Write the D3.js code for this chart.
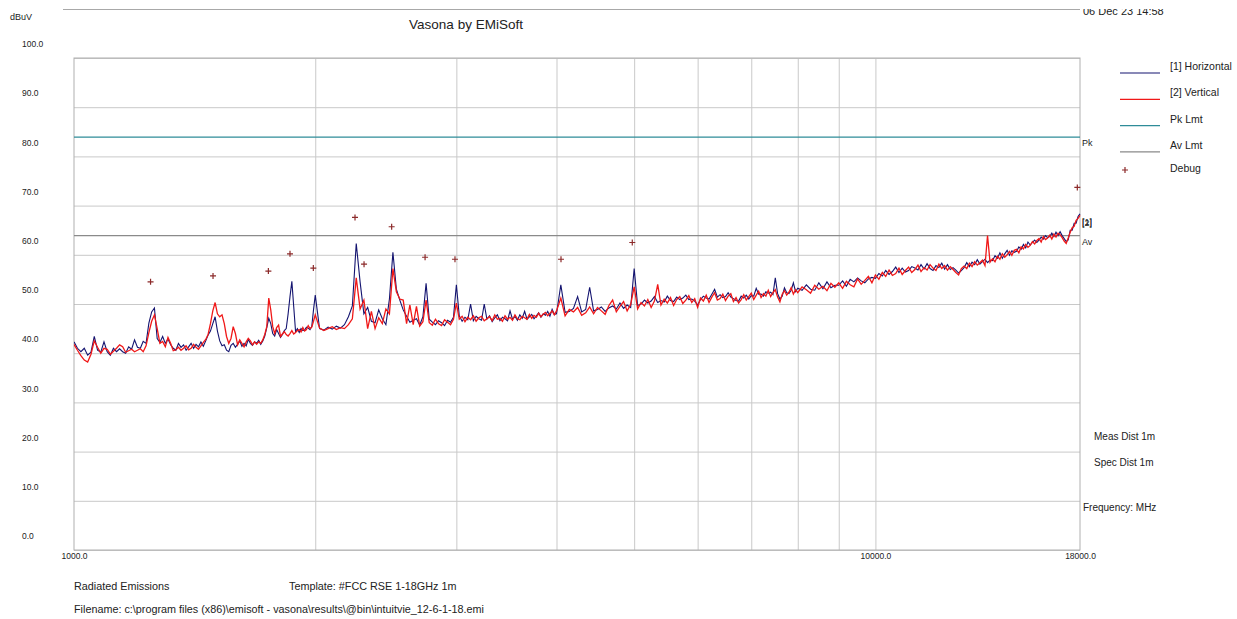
<!DOCTYPE html>
<html>
<head>
<meta charset="utf-8">
<script src="https://cdn.jsdelivr.net/npm/d3@7"></script>
<style>
  body { margin: 0; background: #fff; }
  svg text { font-family: "Liberation Sans", Arial, sans-serif; fill: #222; }
</style>
</head>
<body>
<svg id="chart" width="1237" height="619"></svg>
<script>
// Sweep frequencies (MHz)
const freqMHz = [
  1000,1010,1020,1030,1040,1050,1060,1070,1080,1090,
  1100,1110,1120,1130,1140,1150,1160,1170,1180,1190,
  1200,1210,1220,1230,1240,1250,1260,1270,1280,1290,
  1300,1310,1320,1330,1340,1350,1360,1370,1380,1390,
  1400,1410,1420,1430,1440,1450,1460,1470,1480,1490,
  1500,1510,1520,1530,1540,1550,1560,1570,1580,1590,
  1600,1610,1620,1630,1640,1650,1660,1670,1680,1690,
  1700,1710,1720,1730,1740,1750,1760,1770,1780,1790,
  1800,1810,1820,1830,1840,1850,1860,1870,1880,1890,
  1900,1910,1920,1930,1940,1950,1960,1970,1980,1990,
  2000,2025,2050,2075,2100,2125,2150,2175,2200,2225,
  2250,2275,2300,2325,2350,2375,2400,2425,2450,2475,
  2500,2525,2550,2575,2600,2625,2650,2675,2700,2725,
  2750,2775,2800,2825,2850,2875,2900,2925,2950,2975,
  3000,3025,3050,3075,3100,3125,3150,3175,3200,3225,
  3250,3275,3300,3325,3350,3375,3400,3425,3450,3475,
  3500,3525,3550,3575,3600,3625,3650,3675,3700,3725,
  3750,3775,3800,3825,3850,3875,3900,3925,3950,3975,
  4000,4050,4100,4150,4200,4250,4300,4350,4400,4450,
  4500,4550,4600,4650,4700,4750,4800,4850,4900,4950,
  5000,5050,5100,5150,5200,5250,5300,5350,5400,5450,
  5500,5550,5600,5650,5700,5750,5800,5850,5900,5950,
  6000,6050,6100,6150,6200,6250,6300,6350,6400,6450,
  6500,6550,6600,6650,6700,6750,6800,6850,6900,6950,
  7000,7050,7100,7150,7200,7250,7300,7350,7400,7450,
  7500,7550,7600,7650,7700,7750,7800,7850,7900,7950,
  8000,8100,8200,8300,8400,8500,8600,8700,8800,8900,
  9000,9100,9200,9300,9400,9500,9600,9700,9800,9900,
  10000,10100,10200,10300,10400,10500,10600,10700,10800,10900,
  11000,11100,11200,11300,11400,11500,11600,11700,11800,11900,
  12000,12100,12200,12300,12400,12500,12600,12700,12800,12900,
  13000,13100,13200,13300,13400,13500,13600,13700,13800,13900,
  14000,14100,14200,14300,14400,14500,14600,14700,14800,14900,
  15000,15100,15200,15300,15400,15500,15600,15700,15800,15900,
  16000,16100,16200,16300,16400,16500,16600,16700,16800,16900,
  17000,17100,17200,17300,17400,17500,17600,17700,17800,17900,
  18000
];

// [1] Horizontal trace (dBuV)
const horizontalDbuv = [
  42.3,41.0,40.3,41.0,39.6,40.2,43.4,40.6,40.2,42.3,
  40.3,39.6,41.0,40.3,40.9,40.3,40.0,41.3,40.8,42.7,
  41.2,41.0,42.4,42.0,46.1,48.4,49.2,43.0,42.2,43.4,
  42.0,42.9,41.7,41.0,40.6,42.0,41.2,41.7,40.6,41.3,
  42.0,41.0,41.8,41.3,42.3,41.4,42.5,43.7,44.5,46.0,
  47.4,44.5,42.5,41.5,41.7,40.6,40.3,41.6,42.0,41.2,
  41.8,42.5,41.4,42.0,41.5,42.8,42.0,41.6,42.3,42.0,
  42.6,41.8,42.5,43.5,45.2,47.1,46.0,44.0,43.5,44.8,
  44.0,43.2,43.8,44.6,45.0,48.0,51.5,54.6,49.5,44.4,
  45.0,44.2,45.0,44.6,44.7,45.3,45.1,44.8,45.4,48.8,
  51.8,45.0,44.7,45.3,44.9,45.5,45.1,45.8,47.4,49.6,
  62.3,54.5,48.0,49.3,46.5,46.2,48.8,47.0,45.8,51.0,
  60.5,53.0,50.8,48.8,47.5,46.3,46.7,47.0,45.7,47.4,
  54.2,46.9,46.3,45.8,46.6,46.2,45.6,46.7,46.3,47.3,
  53.9,47.6,46.5,47.3,46.8,50.0,46.6,47.5,47.0,46.7,
  50.0,46.9,47.6,46.4,47.2,47.8,46.6,47.3,47.0,46.6,
  48.6,46.9,47.5,46.7,47.8,47.1,48.5,46.9,47.4,47.9,
  47.0,47.6,48.2,47.3,48.0,47.7,48.5,47.5,48.9,47.9,
  48.0,53.9,48.3,48.5,49.1,51.5,48.4,48.9,53.4,48.6,
  48.9,49.4,48.5,49.2,49.6,49.0,50.2,49.1,49.8,49.3,
  57.2,49.7,50.0,50.8,50.2,50.6,51.5,50.3,50.7,50.4,
  51.6,50.7,50.5,51.4,50.9,51.2,51.8,50.9,51.0,50.6,
  49.8,50.9,51.6,51.2,51.0,52.0,53.0,51.4,51.9,51.3,
  51.5,52.3,51.4,51.1,50.7,50.6,51.6,51.2,51.8,51.0,
  51.7,51.6,53.2,52.0,52.0,51.6,52.5,52.2,52.4,51.9,
  55.3,52.1,51.0,51.6,53.3,52.3,52.1,52.8,54.3,52.5,
  53.2,52.8,53.9,53.0,52.8,54.3,53.1,54.5,53.3,53.8,
  53.8,54.7,53.6,55.0,54.5,55.3,54.7,54.3,55.1,55.4,
  55.2,56.2,55.7,56.8,56.0,56.6,57.5,56.4,57.3,56.5,
  56.8,57.6,57.3,56.9,58.0,57.1,58.2,57.2,56.8,57.8,
  57.4,58.3,57.1,58.0,57.0,57.4,56.9,56.3,56.8,57.4,
  58.4,57.6,58.5,58.0,59.0,58.1,58.6,59.1,58.4,58.9,
  58.8,59.8,59.3,60.4,59.3,60.2,60.9,59.9,60.8,60.5,
  60.7,61.6,61.1,62.1,61.4,62.6,62.0,62.5,63.0,62.5,
  63.0,63.6,63.2,63.9,63.5,63.7,64.4,63.7,64.6,63.9,
  64.7,63.9,63.3,62.7,63.0,65.0,65.0,66.4,66.4,67.8,
  68.3
];

// [2] Vertical trace (dBuV)
const verticalDbuv = [
  41.8,40.6,39.5,38.6,38.2,39.8,42.5,41.2,40.0,41.0,
  40.8,39.8,40.4,41.0,41.7,41.3,40.2,40.5,40.8,40.3,
  40.6,40.9,40.3,41.5,44.2,46.5,47.8,45.0,42.0,42.4,
  41.3,43.2,42.0,40.5,40.7,41.2,40.6,41.0,41.5,40.7,
  41.0,41.8,41.2,40.8,41.5,42.2,42.8,43.8,46.0,48.6,
  50.3,48.0,47.4,47.8,46.0,43.4,42.0,43.0,45.4,44.0,
  41.7,42.7,42.0,41.3,42.3,43.0,42.5,41.7,42.3,41.8,
  42.3,42.0,42.7,43.8,45.4,51.2,48.8,45.4,44.0,45.2,
  45.7,43.4,43.9,44.4,43.8,43.5,44.0,44.6,43.9,44.2,
  44.6,44.8,44.3,45.2,44.5,44.8,45.6,45.0,45.3,46.5,
  47.8,45.1,44.6,45.0,45.4,44.8,45.2,45.0,45.8,47.0,
  55.3,49.0,50.8,45.0,48.5,45.0,47.2,46.0,49.0,48.0,
  57.2,52.5,51.0,50.8,46.0,49.8,45.8,49.5,45.5,46.4,
  50.8,46.2,45.7,46.9,46.0,45.6,46.8,46.3,45.8,46.9,
  50.2,46.9,47.5,46.4,47.3,46.8,47.6,46.5,47.2,47.5,
  46.6,47.0,47.4,46.6,47.8,46.9,47.1,46.5,47.6,46.9,
  47.3,46.7,47.8,47.0,46.8,47.5,47.2,46.9,47.9,47.1,
  47.7,47.3,48.1,47.4,47.9,48.3,47.6,48.1,48.6,47.8,
  48.6,51.2,47.6,48.9,48.4,49.3,47.7,48.2,49.4,48.0,
  49.3,48.6,47.9,49.7,50.8,48.4,49.5,50.5,48.6,49.9,
  53.5,49.0,50.3,49.6,50.9,49.3,50.6,54.0,49.8,51.0,
  50.2,51.3,49.7,50.9,51.5,50.1,50.8,51.7,50.3,51.1,
  49.3,51.2,50.6,51.8,50.3,51.4,52.3,50.8,51.1,52.0,
  50.7,51.6,52.1,50.5,51.3,50.2,50.9,51.9,50.8,51.5,
  52.2,50.9,51.8,52.6,51.3,52.1,51.6,52.8,51.5,52.3,
  52.9,51.4,50.4,52.0,52.7,51.8,52.4,53.3,52.0,52.9,
  52.3,53.5,52.9,52.2,53.8,53.0,53.6,52.7,54.2,53.4,
  54.3,53.2,54.6,53.9,53.5,55.1,54.0,54.8,55.6,54.3,
  55.9,55.0,56.4,55.6,56.9,55.8,56.2,57.3,56.0,56.8,
  57.5,56.4,57.0,57.9,56.6,57.4,56.9,58.0,57.3,56.8,
  58.1,57.2,57.8,56.9,57.6,57.0,56.4,55.9,57.2,57.7,
  57.2,58.3,57.6,58.6,57.9,58.4,58.9,57.8,63.9,58.5,
  59.2,58.6,59.7,59.1,60.2,59.5,60.0,60.7,59.9,60.9,
  61.1,60.4,61.6,61.2,62.1,61.5,61.9,62.7,62.2,62.9,
  63.3,62.6,63.7,63.1,63.4,64.0,63.2,64.2,63.6,64.4,
  64.1,63.5,62.8,62.3,63.4,64.6,65.5,65.8,67.0,67.4,
  68.0
];

// Debug markers
const debugFreqMHz = [1246, 1491, 1748, 1860, 1989, 2242, 2301, 2491, 2742, 2988, 4052, 4973, 17862];
const debugDbuv    = [54.5, 55.7, 56.7, 60.2, 57.3, 67.6, 58.1, 65.7, 59.5, 59.1, 59.1, 62.5, 73.7];

// Limit lines (dBuV)
const pkLimitDbuv = 83.9;
const avLimitDbuv = 63.9;

// Axis ticks
const yTicks = [0, 10, 20, 30, 40, 50, 60, 70, 80, 90, 100];
const xGridFreqs = [2000, 3000, 4000, 5000, 6000, 7000, 8000, 9000, 10000];
const xLabelFreqs = [1000, 10000, 18000];

const legendItems = [
  { label: "[1] Horizontal", color: "#141470" },
  { label: "[2] Vertical", color: "#f01818" },
  { label: "Pk Lmt", color: "#2e8c98" },
  { label: "Av Lmt", color: "#8a8a8a" }
];

const svg = d3.select("#chart");
const plotLeft = 74, plotRight = 1080, plotTop = 58, plotBottom = 550;

const x = d3.scaleLog().domain([1000, 18000]).range([plotLeft, plotRight]);
const y = d3.scaleLinear().domain([0, 100]).range([plotBottom, plotTop]);

// Header rule and title
svg.append("line").attr("x1", 63).attr("x2", plotRight).attr("y1", 9.5).attr("y2", 9.5)
  .attr("stroke", "#a8a8a8").attr("stroke-width", 1);
svg.append("text").attr("x", 466).attr("y", 29).attr("text-anchor", "middle")
  .style("font-size", "13.5px").text("Vasona by EMiSoft");

// Date stamp, clipped at the top edge of the header band
svg.append("clipPath").attr("id", "dateClip")
  .append("rect").attr("x", 1080).attr("y", 9).attr("width", 157).attr("height", 30);
svg.append("text").attr("x", 1083).attr("y", 15).attr("clip-path", "url(#dateClip)")
  .style("font-size", "11px").text("06 Dec 23 14:58");

svg.append("text").attr("x", 10).attr("y", 20).style("font-size", "9px").text("dBuV");

// Horizontal grid
svg.append("g").attr("transform", `translate(${plotLeft},0)`)
  .call(d3.axisLeft(y).tickValues(yTicks).tickSize(-(plotRight - plotLeft)).tickFormat(""))
  .call(g => g.select(".domain").remove())
  .call(g => g.selectAll(".tick line").attr("stroke", "#c9c9c9"));

// Vertical grid
svg.append("g").attr("transform", `translate(0,${plotBottom})`)
  .call(d3.axisBottom(x).tickValues(xGridFreqs).tickSize(-(plotBottom - plotTop)).tickFormat(""))
  .call(g => g.select(".domain").remove())
  .call(g => g.selectAll(".tick line").attr("stroke", "#c9c9c9"));

// Y labels (drawn above their grid lines)
svg.append("g").attr("transform", `translate(${plotLeft},0)`)
  .call(d3.axisLeft(y).tickValues(yTicks).tickSize(0).tickFormat(d => d.toFixed(1)))
  .call(g => g.select(".domain").remove())
  .call(g => g.selectAll(".tick text")
    .attr("x", 22 - plotLeft).attr("y", -14).attr("text-anchor", "start")
    .style("font-size", "8.5px").style("font-family", "Liberation Sans, Arial, sans-serif").attr("fill", "#222"));

// X labels
svg.append("g").attr("transform", `translate(0,${plotBottom})`)
  .call(d3.axisBottom(x).tickValues(xLabelFreqs).tickSize(0).tickFormat(d => d.toFixed(1)))
  .call(g => g.select(".domain").remove())
  .call(g => g.selectAll(".tick text")
    .attr("y", 3).style("font-size", "8.5px").style("font-family", "Liberation Sans, Arial, sans-serif").attr("fill", "#222"));

// Plot frame
svg.append("rect").attr("x", plotLeft).attr("y", plotTop)
  .attr("width", plotRight - plotLeft).attr("height", plotBottom - plotTop)
  .attr("fill", "none").attr("stroke", "#b0b0b0");

// Limit lines
svg.append("line").attr("x1", plotLeft).attr("x2", plotRight)
  .attr("y1", y(pkLimitDbuv)).attr("y2", y(pkLimitDbuv))
  .attr("stroke", legendItems[2].color).attr("stroke-width", 1.2);
svg.append("line").attr("x1", plotLeft).attr("x2", plotRight)
  .attr("y1", y(avLimitDbuv)).attr("y2", y(avLimitDbuv))
  .attr("stroke", legendItems[3].color).attr("stroke-width", 1.2);

// Traces
svg.append("clipPath").attr("id", "plotClip")
  .append("rect").attr("x", plotLeft).attr("y", plotTop)
  .attr("width", plotRight - plotLeft + 1).attr("height", plotBottom - plotTop);

const line = d3.line().x(d => x(d[0])).y(d => y(d[1]));
const hData = freqMHz.map((f, i) => [f, horizontalDbuv[i]]);
const vData = freqMHz.map((f, i) => [f, verticalDbuv[i]]);

svg.append("path").datum(hData).attr("d", line).attr("clip-path", "url(#plotClip)")
  .attr("fill", "none").attr("stroke", legendItems[0].color).attr("stroke-width", 1.1);
svg.append("path").datum(vData).attr("d", line).attr("clip-path", "url(#plotClip)")
  .attr("fill", "none").attr("stroke", legendItems[1].color).attr("stroke-width", 1.3);

// Debug markers
const plus = (cx, cy, s) => `M${cx - s},${cy}H${cx + s}M${cx},${cy - s}V${cy + s}`;
svg.append("g").selectAll("path").data(debugFreqMHz).join("path")
  .attr("d", (f, i) => plus(x(f), y(debugDbuv[i]), 3))
  .attr("stroke", "#8c2a2a").attr("stroke-width", 1.2).attr("fill", "none");

// Right-hand annotations
const side = svg.append("g").style("font-size", "9px");
side.append("text").attr("x", 1082).attr("y", y(pkLimitDbuv) + 9).text("Pk");
side.append("text").attr("x", 1082).attr("y", y(avLimitDbuv) + 9).text("Av");
side.append("text").attr("x", 1082).attr("y", y(horizontalDbuv[horizontalDbuv.length - 1]) + 11).text("[1]");
side.append("text").attr("x", 1082).attr("y", y(verticalDbuv[verticalDbuv.length - 1]) + 11).text("[2]");

const notes = svg.append("g").style("font-size", "10px");
notes.append("text").attr("x", 1094).attr("y", 440).text("Meas Dist 1m");
notes.append("text").attr("x", 1094).attr("y", 466).text("Spec Dist 1m");
notes.append("text").attr("x", 1083).attr("y", 511).text("Frequency: MHz");

// Legend
const legend = svg.append("g").style("font-size", "10.5px");
legendItems.forEach((d, i) => {
  const ly = 73 + i * 26.3;
  legend.append("line").attr("x1", 1120).attr("x2", 1160).attr("y1", ly).attr("y2", ly)
    .attr("stroke", d.color).attr("stroke-width", 1.2);
  legend.append("text").attr("x", 1170).attr("y", ly - 3).text(d.label);
});
legend.append("path").attr("d", plus(1125, 170, 3)).attr("stroke", "#8c2a2a").attr("stroke-width", 1.2);
legend.append("text").attr("x", 1170).attr("y", 172).text("Debug");

// Footer
const foot = svg.append("g").style("font-size", "10.8px");
foot.append("text").attr("x", 74).attr("y", 590).text("Radiated Emissions");
foot.append("text").attr("x", 289).attr("y", 590).text("Template: #FCC RSE 1-18GHz 1m");
foot.append("text").attr("x", 74).attr("y", 613)
  .text("Filename: c:\\program files (x86)\\emisoft - vasona\\results\\@bin\\intuitvie_12-6-1-18.emi");
</script>
</body>
</html>
